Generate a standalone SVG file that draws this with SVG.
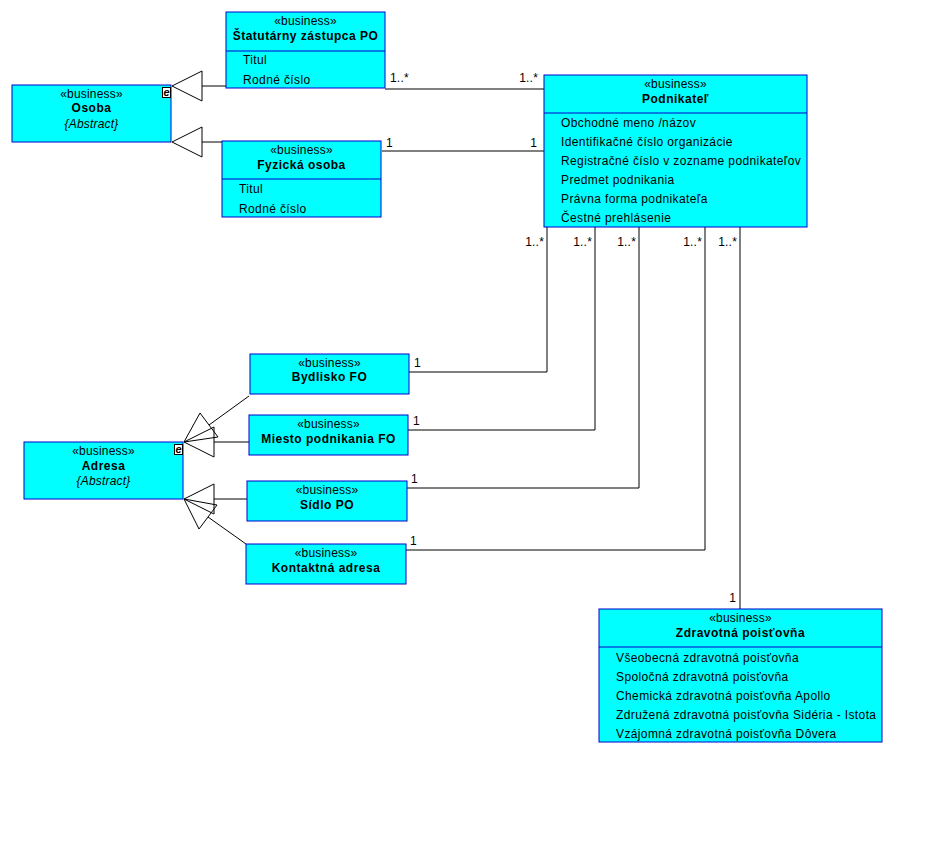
<svg xmlns="http://www.w3.org/2000/svg" width="946" height="853" viewBox="0 0 946 853">
<style>
  .box { fill: #00FFFF; stroke: #0000CC; stroke-width: 1; }
  .div { stroke: #0000CC; stroke-width: 1; }
  text { font-family: "Liberation Sans", Arial, sans-serif; font-size: 12px; fill: #000; letter-spacing: 0.38px; }
  .st { text-anchor: middle; letter-spacing: 0.2px; }
  .nm { text-anchor: middle; font-weight: bold; letter-spacing: 0.5px; }
  .ab { text-anchor: middle; font-style: italic; letter-spacing: 0.2px; }
  .ln { fill: none; stroke: #000; stroke-width: 1; }
  .tri { fill: none; stroke: #000; stroke-width: 1; }
  .ebox { fill: #fff; stroke: #000; stroke-width: 1; }
  .e { font-weight: bold; font-style: italic; font-size: 11px; text-anchor: middle; letter-spacing: 0; }
  .end { text-anchor: end; }
  .m { letter-spacing: 0.2px; }
</style>
<rect width="946" height="853" fill="#fff"/>

<g id="connectors">
  <!-- generalizations to Osoba -->
  <line class="ln" x1="202" y1="86" x2="226" y2="86"/>
  <polygon class="tri" points="172,86 202,71 202,101"/>
  <line class="ln" x1="202" y1="142" x2="222" y2="142"/>
  <polygon class="tri" points="172,142 202,127 202,157"/>
  <!-- generalizations to Adresa -->
  <line class="ln" x1="209" y1="425" x2="249" y2="396"/>
  <polygon class="tri" points="184,442 200,413 218,437"/>
  <line class="ln" x1="214" y1="442" x2="249" y2="442"/>
  <polygon class="tri" points="184,442 214,427 214,457"/>
  <line class="ln" x1="214" y1="499" x2="247" y2="499"/>
  <polygon class="tri" points="184,499 214,484 214,514"/>
  <line class="ln" x1="208" y1="517" x2="246" y2="544"/>
  <polygon class="tri" points="184,499 199,529 217,505"/>
  <!-- associations -->
  <line class="ln" x1="385" y1="89" x2="544" y2="89"/>
  <text x="390" y="82" class="m">1..*</text>
  <text x="538" y="82" class="m end">1..*</text>
  <line class="ln" x1="382" y1="151" x2="544" y2="151"/>
  <text x="386" y="147" class="m">1</text>
  <text x="537" y="147" class="m end">1</text>
  <polyline class="ln" points="547,227 547,372 409,372"/>
  <text x="544" y="246" class="m end">1..*</text>
  <text x="414" y="367" class="m">1</text>
  <polyline class="ln" points="595,227 595,430 408,430"/>
  <text x="592" y="246" class="m end">1..*</text>
  <text x="413" y="425" class="m">1</text>
  <polyline class="ln" points="639,227 639,488 407,488"/>
  <text x="636" y="246" class="m end">1..*</text>
  <text x="411" y="483" class="m">1</text>
  <polyline class="ln" points="705,227 705,550 406,550"/>
  <text x="702" y="246" class="m end">1..*</text>
  <text x="410" y="545" class="m">1</text>
  <line class="ln" x1="740" y1="227" x2="740" y2="609"/>
  <text x="737" y="246" class="m end">1..*</text>
  <text x="736" y="602" class="m end">1</text>
</g>

<g id="osoba">
  <rect class="box" x="12" y="85" width="159" height="57"/>
  <rect class="ebox" x="162.5" y="87.5" width="8" height="10"/>
  <text x="166.5" y="96" class="e">e</text>
  <text x="91.5" y="98" class="st">«business»</text>
  <text x="91.5" y="112" class="nm">Osoba</text>
  <text x="91.5" y="128" class="ab">{Abstract}</text>
</g>

<g id="statutarny">
  <rect class="box" x="226" y="12" width="159" height="76"/>
  <line class="div" x1="226" y1="51" x2="385" y2="51"/>
  <text x="305.5" y="25" class="st">«business»</text>
  <text x="305.5" y="40" class="nm">Štatutárny zástupca PO</text>
  <text x="243" y="64">Titul</text>
  <text x="243" y="84">Rodné číslo</text>
</g>

<g id="fyzicka">
  <rect class="box" x="222" y="141" width="159" height="76"/>
  <line class="div" x1="222" y1="179" x2="381" y2="179"/>
  <text x="301.5" y="154" class="st">«business»</text>
  <text x="301.5" y="169" class="nm">Fyzická osoba</text>
  <text x="239" y="193">Titul</text>
  <text x="239" y="213">Rodné číslo</text>
</g>

<g id="podnikatel">
  <rect class="box" x="544" y="75" width="263" height="152"/>
  <line class="div" x1="544" y1="113" x2="807" y2="113"/>
  <text x="675.5" y="88" class="st">«business»</text>
  <text x="675.5" y="103" class="nm">Podnikateľ</text>
  <text x="561" y="127">Obchodné meno /názov</text>
  <text x="561" y="146">Identifikačné číslo organizácie</text>
  <text x="561" y="165">Registračné číslo v zozname podnikateľov</text>
  <text x="561" y="184">Predmet podnikania</text>
  <text x="561" y="203">Právna forma podnikateľa</text>
  <text x="561" y="222">Čestné prehlásenie</text>
</g>

<g id="adresa">
  <rect class="box" x="24" y="442" width="159" height="57"/>
  <rect class="ebox" x="174.5" y="444.5" width="8" height="10"/>
  <text x="178.5" y="453" class="e">e</text>
  <text x="103.5" y="455" class="st">«business»</text>
  <text x="103.5" y="470" class="nm">Adresa</text>
  <text x="103.5" y="485" class="ab">{Abstract}</text>
</g>

<g id="bydlisko">
  <rect class="box" x="250" y="354" width="159" height="40"/>
  <text x="329.5" y="367" class="st">«business»</text>
  <text x="329.5" y="381" class="nm">Bydlisko FO</text>
</g>

<g id="miesto">
  <rect class="box" x="249" y="415" width="159" height="40"/>
  <text x="328.5" y="428" class="st">«business»</text>
  <text x="328.5" y="443" class="nm">Miesto podnikania FO</text>
</g>

<g id="sidlo">
  <rect class="box" x="247" y="481" width="160" height="40"/>
  <text x="327" y="494" class="st">«business»</text>
  <text x="327" y="509" class="nm">Sídlo PO</text>
</g>

<g id="kontaktna">
  <rect class="box" x="246" y="544" width="160" height="40"/>
  <text x="326" y="557" class="st">«business»</text>
  <text x="326" y="572" class="nm">Kontaktná adresa</text>
</g>

<g id="zdravotna">
  <rect class="box" x="599" y="609" width="283" height="133"/>
  <line class="div" x1="599" y1="647" x2="882" y2="647"/>
  <text x="740.5" y="622" class="st">«business»</text>
  <text x="740.5" y="637" class="nm">Zdravotná poisťovňa</text>
  <text x="616" y="662">Všeobecná zdravotná poisťovňa</text>
  <text x="616" y="681">Spoločná zdravotná poisťovňa</text>
  <text x="616" y="700">Chemická zdravotná poisťovňa Apollo</text>
  <text x="616" y="719">Združená zdravotná poisťovňa Sidéria - Istota</text>
  <text x="616" y="738">Vzájomná zdravotná poisťovňa Dôvera</text>
</g>
</svg>
